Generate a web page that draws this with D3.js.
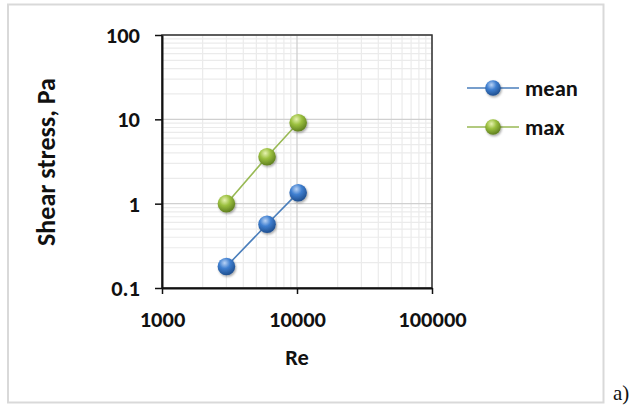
<!DOCTYPE html>
<html><head><meta charset="utf-8">
<script src="https://cdn.jsdelivr.net/npm/d3@7"></script>
<style>body{margin:0;background:#fff}svg{display:block}</style>
</head><body>
<svg id="c" width="634" height="411"></svg>
<script>
const reValues = [3000, 6000, 10200];
const meanValues = [0.18, 0.57, 1.35];
const maxValues = [1.0, 3.6, 9.1];
const seriesNames = ["mean", "max"];
const xTicks = [1000, 10000, 100000];
const yTicks = [0.1, 1, 10, 100];

const svg = d3.select("#c");
const font = "Carlito, Lato, 'Open Sans', sans-serif";
const fs = 22.5;
const L = 162, R = 432, T = 35, B = 288;
const x = d3.scaleLog().domain([1000, 100000]).range([L, R]);
const y = d3.scaleLog().domain([0.1, 100]).range([B, T]);

// outer border
svg.append("rect").attr("x", 8).attr("y", 4.5).attr("width", 595.5).attr("height", 398)
  .attr("fill", "#fff").attr("stroke", "#d9d9d9").attr("stroke-width", 2);

// gradients
const defs = svg.append("defs");
function grad(id, light, mid, dark) {
  const g = defs.append("radialGradient").attr("id", id).attr("cx", "40%").attr("cy", "30%").attr("r", "70%");
  g.append("stop").attr("offset", "0%").attr("stop-color", light);
  g.append("stop").attr("offset", "45%").attr("stop-color", mid);
  g.append("stop").attr("offset", "100%").attr("stop-color", dark);
}
grad("gb", "#b9d3f5", "#3f7fd0", "#1f4f8f");
grad("gg", "#e6f2b0", "#9bc03f", "#5f7f1f");
const shadow = defs.append("filter").attr("id", "sh").attr("x", "-50%").attr("y", "-50%").attr("width", "200%").attr("height", "200%");
shadow.append("feDropShadow").attr("dx", 1).attr("dy", 1.5).attr("stdDeviation", 1.2).attr("flood-color", "#000").attr("flood-opacity", 0.35);

// minor gridlines
const minorX = [], minorY = [];
[1000, 10000].forEach(d => { for (let k = 2; k <= 9; k++) minorX.push(d * k); });
[0.1, 1, 10].forEach(d => { for (let k = 2; k <= 9; k++) minorY.push(d * k); });
const grid = svg.append("g");
grid.selectAll(".mx").data(minorX).join("line").attr("x1", d => x(d)).attr("x2", d => x(d))
  .attr("y1", T).attr("y2", B).attr("stroke", "#ebebeb").attr("stroke-width", 1.2);
grid.selectAll(".my").data(minorY).join("line").attr("y1", d => y(d)).attr("y2", d => y(d))
  .attr("x1", L).attr("x2", R).attr("stroke", "#ebebeb").attr("stroke-width", 1.2);
grid.selectAll(".Mx").data(xTicks).join("line").attr("x1", d => x(d)).attr("x2", d => x(d))
  .attr("y1", T).attr("y2", B).attr("stroke", "#d0d0d0").attr("stroke-width", 1.3);
grid.selectAll(".My").data(yTicks).join("line").attr("y1", d => y(d)).attr("y2", d => y(d))
  .attr("x1", L).attr("x2", R).attr("stroke", "#d0d0d0").attr("stroke-width", 1.3);

// plot frame
svg.append("rect").attr("x", L).attr("y", T).attr("width", R - L).attr("height", B - T)
  .attr("fill", "none").attr("stroke", "#333").attr("stroke-width", 1.5);

// axes
const xAxis = d3.axisBottom(x).tickValues(xTicks).tickFormat(d3.format("d")).tickSize(6).tickSizeOuter(0);
const yAxis = d3.axisLeft(y).tickValues(yTicks).tickFormat(d => d < 1 ? "0.1" : d3.format("d")(d)).tickSize(7).tickSizeOuter(0);
const gx = svg.append("g").attr("transform", `translate(0,${B})`).call(xAxis);
const gy = svg.append("g").attr("transform", `translate(${L},0)`).call(yAxis);
[gx, gy].forEach(g => {
  g.select(".domain").attr("stroke", "#111").attr("stroke-width", 2);
  g.selectAll(".tick line").attr("stroke", "#111").attr("stroke-width", 1.5);
  g.selectAll("text").attr("font-family", font).attr("font-weight", "bold").attr("font-size", fs).attr("fill", "#111");
});
gx.selectAll("text").attr("y", 0).attr("dy", 0).attr("transform", "translate(0,31.5)").attr("dominant-baseline", "central");
gy.selectAll("text").attr("x", -22).attr("dy", 0).attr("dominant-baseline", "central");

// axis titles
svg.append("text").attr("x", (L + R) / 2).attr("y", 357.5).attr("dominant-baseline", "central").attr("text-anchor", "middle")
  .attr("font-family", font).attr("font-weight", "bold").attr("font-size", fs).attr("fill", "#111").text("Re");
svg.append("text").attr("transform", `translate(46,162) rotate(-90)`).attr("text-anchor", "middle")
  .attr("dominant-baseline", "central")
  .attr("font-family", font).attr("font-weight", "bold").attr("font-size", 26).attr("fill", "#111").text("Shear stress, Pa");

// series
const series = [
  {name: seriesNames[0], vals: meanValues, line: "#4a7ebb", fill: "url(#gb)"},
  {name: seriesNames[1], vals: maxValues, line: "#98b954", fill: "url(#gg)"}
];
const lineGen = d3.line().x(d => x(d[0])).y(d => y(d[1]));
series.forEach(s => {
  const pts = reValues.map((r, i) => [r, s.vals[i]]);
  svg.append("path").attr("d", lineGen(pts)).attr("fill", "none").attr("stroke", s.line).attr("stroke-width", 1.6);
  svg.append("g").selectAll("circle").data(pts).join("circle")
    .attr("cx", d => x(d[0])).attr("cy", d => y(d[1])).attr("r", 8.8)
    .attr("fill", s.fill).attr("filter", "url(#sh)");
});

// legend
const leg = svg.append("g");
series.forEach((s, i) => {
  const ly = 88 + i * 39;
  leg.append("line").attr("x1", 467).attr("x2", 519).attr("y1", ly).attr("y2", ly).attr("stroke", s.line).attr("stroke-width", 1.6);
  leg.append("circle").attr("cx", 493).attr("cy", ly).attr("r", 7.8).attr("fill", s.fill).attr("filter", "url(#sh)");
  leg.append("text").attr("x", 525).attr("y", ly).attr("dominant-baseline", "central")
    .attr("font-family", font).attr("font-weight", "bold").attr("font-size", fs).attr("fill", "#111").text(s.name);
});

// panel label
svg.append("text").attr("x", 613).attr("y", 400).attr("font-family", "'Liberation Serif', serif")
  .attr("font-size", 21).attr("fill", "#111").text("a)");
</script>
</body></html>
